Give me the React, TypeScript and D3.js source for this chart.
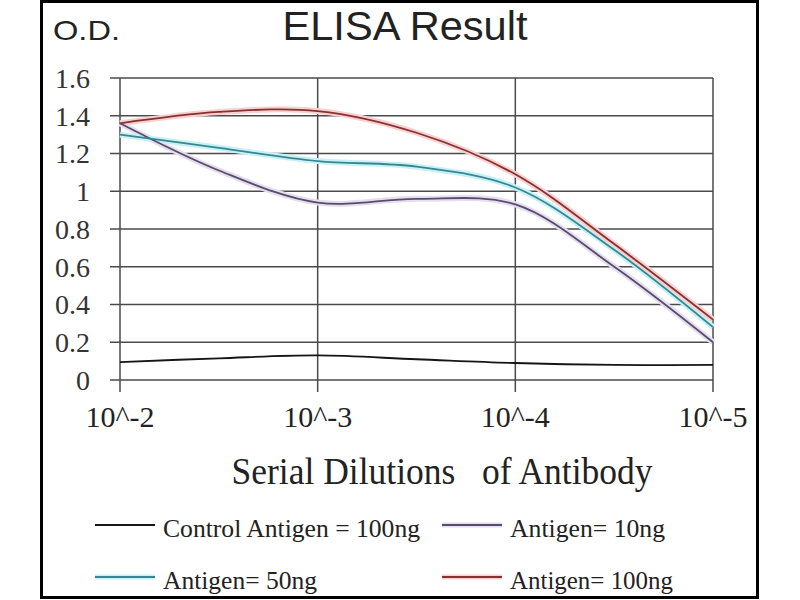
import * as d3 from "d3";

// dilution steps (half-decade) along the x axis
const dilutions = [1e-2, 3.16e-3, 1e-3, 3.16e-4, 1e-4, 3.16e-5, 1e-5];
const xTicks = [1e-2, 1e-3, 1e-4, 1e-5];
const xTickLabels = ["10^-2", "10^-3", "10^-4", "10^-5"];
const yTicks = [0, 0.2, 0.4, 0.6, 0.8, 1, 1.2, 1.4, 1.6];

const control100 = [0.095, 0.115, 0.13, 0.11, 0.09, 0.08, 0.08];
const antigen10 = [1.36, 1.11, 0.94, 0.96, 0.93, 0.6, 0.2];
const antigen50 = [1.3, 1.23, 1.16, 1.13, 1.02, 0.69, 0.28];
const antigen100 = [1.36, 1.42, 1.425, 1.31, 1.09, 0.72, 0.32];

const seriesNames = ["Control Antigen = 100ng", "Antigen= 10ng", "Antigen= 50ng", "Antigen= 100ng"];

const series = [
  { name: seriesNames[0], values: control100, color: "#151515", halo: "none" },
  { name: seriesNames[1], values: antigen10, color: "#5a4a6e", halo: "#e4dfee" },
  { name: seriesNames[2], values: antigen50, color: "#3a8592", halo: "#c6f2f6" },
  { name: seriesNames[3], values: antigen100, color: "#863030", halo: "#f8d0d0" },
];

// legend slots: [x of line start, y, text width]
const legendPos = [
  { x: 95, y: 525, w: 257 },
  { x: 442, y: 525, w: 155 },
  { x: 95, y: 577, w: 154 },
  { x: 442, y: 577, w: 163 },
];

const serif = "'Liberation Serif', 'Times New Roman', serif";
const sans = "'Liberation Sans', Arial, sans-serif";

export default function App() {
  const left = 120, right = 713, top = 78, bottom = 380;

  const x = d3.scaleLog().domain([1e-2, 1e-5]).range([left, right]);
  const y = d3.scaleLinear().domain([0, 1.6]).range([bottom, top]);

  const line = d3
    .line<number>()
    .x((_, i) => x(dilutions[i]))
    .y((d) => y(d))
    .curve(d3.curveCatmullRom.alpha(0.5));

  return (
    <svg
      width={800}
      height={600}
      style={{ position: "absolute", left: 0, top: 0, background: "#fff" }}
    >
      <rect x={0} y={0} width={800} height={600} fill="#fff" />
      {/* frame */}
      <rect x={41.5} y={1.5} width={716} height={596} fill="none" stroke="#000" strokeWidth={3} />

      <text x={53} y={40} fontFamily={sans} fontSize={28} fill="#222" textLength={67} lengthAdjust="spacingAndGlyphs">
        O.D.
      </text>
      <text x={405} y={40} textAnchor="middle" fontFamily={sans} fontSize={41} fill="#222" textLength={245} lengthAdjust="spacingAndGlyphs">
        ELISA Result
      </text>

      {/* horizontal grid */}
      {yTicks.map((t) => (
        <g key={"y" + t}>
          <line x1={110} x2={right} y1={y(t)} y2={y(t)} stroke="#4a4a4a" strokeWidth={1.5} />
          <text x={90} y={y(t)} dy="0.35em" textAnchor="end" fontFamily={serif} fontSize={28} fill="#333">
            {t}
          </text>
        </g>
      ))}

      {/* vertical grid + x labels */}
      {xTicks.map((t, i) => (
        <g key={"x" + i}>
          <line x1={x(t)} x2={x(t)} y1={top} y2={392} stroke="#4a4a4a" strokeWidth={1.5} />
          <text x={x(t)} y={427} textAnchor="middle" fontFamily={serif} fontSize={30} fill="#222">
            {xTickLabels[i]}
          </text>
        </g>
      ))}

      {/* series */}
      {series.map((s) =>
        s.halo === "none" ? null : (
          <path key={"h" + s.name} d={line(s.values) ?? ""} fill="none" stroke={s.halo} strokeWidth={6} />
        )
      )}
      {series.map((s) => (
        <path key={s.name} d={line(s.values) ?? ""} fill="none" stroke={s.color} strokeWidth={1.8} />
      ))}

      <text x={442} y={484} textAnchor="middle" fontFamily={serif} fontSize={37} fill="#222" textLength={421} lengthAdjust="spacingAndGlyphs" style={{ whiteSpace: "pre" }}>
        {"Serial Dilutions   of Antibody"}
      </text>

      {/* legend */}
      {series.map((s, i) => {
        const p = legendPos[i];
        return (
          <g key={"l" + s.name}>
            {s.halo !== "none" && (
              <line x1={p.x} x2={p.x + 60} y1={p.y} y2={p.y} stroke={s.halo} strokeWidth={5} />
            )}
            <line x1={p.x} x2={p.x + 60} y1={p.y} y2={p.y} stroke={s.color} strokeWidth={2} />
            <text x={p.x + 68} y={p.y + 12} fontFamily={serif} fontSize={25} fill="#222" textLength={p.w} lengthAdjust="spacingAndGlyphs">
              {s.name}
            </text>
          </g>
        );
      })}
    </svg>
  );
}
